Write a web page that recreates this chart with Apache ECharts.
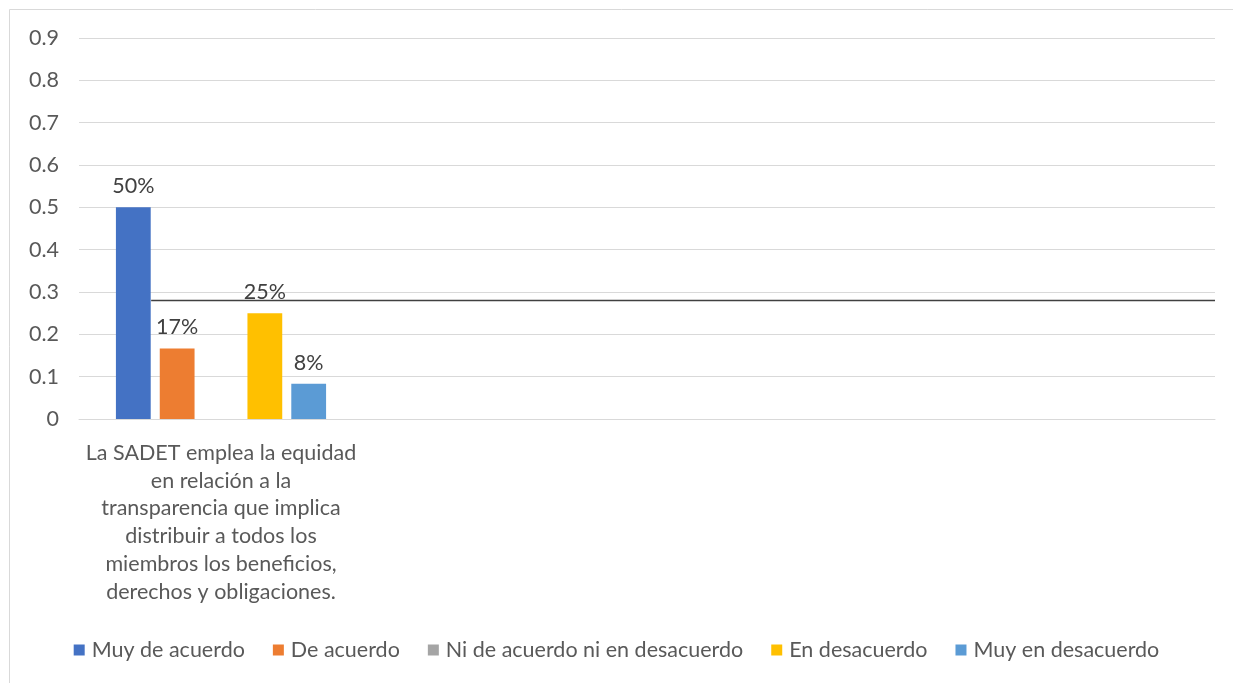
<!DOCTYPE html>
<html>
<head>
<meta charset="utf-8">
<script src="https://cdn.jsdelivr.net/npm/echarts@6/dist/echarts.min.js"></script>
<style>
html,body{margin:0;padding:0;background:#fff;}
#chart{width:1233px;height:683px;}
</style>
</head>
<body>
<div id="chart"></div>
<script>
const categories = [
  'La SADET emplea la equidad\nen relación a la\ntransparencia que implica\ndistribuir a todos los\nmiembros los beneficios,\nderechos y obligaciones.',
  '', '', ''
];
const seriesNames = ['Muy de acuerdo', 'De acuerdo', 'Ni de acuerdo ni en desacuerdo', 'En desacuerdo', 'Muy en desacuerdo'];
const muyDeAcuerdo = [0.5, null, null, null];
const deAcuerdo = [0.1667, null, null, null];
const niNi = [0, null, null, null];
const enDesacuerdo = [0.25, null, null, null];
const muyEnDesacuerdo = [0.0833, null, null, null];
const seriesColors = ['#4472C4', '#ED7D31', '#A5A5A5', '#FFC000', '#5B9BD5'];
const refLine = [[0.254, 0.28], [4, 0.28]];
const yTicks = { min: 0, max: 0.9, interval: 0.1 };

const values = [muyDeAcuerdo, deAcuerdo, niNi, enDesacuerdo, muyEnDesacuerdo];
const font = 'Lato, "Open Sans", sans-serif';
const fs = 21.5;

const chart = echarts.init(document.getElementById('chart'), null, { renderer: 'canvas' });

const barSeries = seriesNames.map((name, i) => ({
  name: name,
  type: 'bar',
  xAxisIndex: 0,
  yAxisIndex: 0,
  data: values[i],
  barGap: '26%',
  barCategoryGap: '26%',
  itemStyle: { color: seriesColors[i] },
  label: {
    show: true,
    position: 'top',
    distance: 10,
    color: '#404040',
    fontFamily: font,
    fontSize: fs,
    formatter: p => (p.value ? Math.round(p.value * 100) + '%' : '')
  },
  emphasis: { disabled: true },
  animation: false
}));

const option = {
  animation: false,
  backgroundColor: '#fff',
  textStyle: { fontFamily: font },
  graphic: [{
    type: 'rect',
    silent: true,
    shape: { x: 9.5, y: 9.5, width: 1240, height: 700 },
    style: { fill: 'none', stroke: '#d9d9d9', lineWidth: 1 }
  }],
  grid: { left: 79, right: 18, top: 38, bottom: 264, containLabel: false },
  legend: {
    data: seriesNames,
    bottom: 17,
    left: 'center',
    icon: 'rect',
    itemWidth: 11,
    itemHeight: 11,
    itemGap: 28,
    textStyle: { color: '#595959', fontSize: fs, fontFamily: font, padding: [0, 0, 0, 2] }
  },
  xAxis: [{
    type: 'category',
    data: categories,
    axisTick: { show: false },
    axisLine: { lineStyle: { color: '#d9d9d9', width: 1 } },
    axisLabel: {
      interval: 0,
      margin: 20,
      color: '#595959',
      fontSize: fs,
      lineHeight: 27.8,
      fontFamily: font,
      align: 'center'
    }
  }, {
    type: 'value',
    min: 0,
    max: 4,
    show: false
  }],
  yAxis: {
    type: 'value',
    min: yTicks.min,
    max: yTicks.max,
    interval: yTicks.interval,
    axisLine: { show: false },
    axisTick: { show: false },
    splitLine: { lineStyle: { color: '#d9d9d9', width: 1 } },
    axisLabel: {
      margin: 20,
      color: '#595959',
      fontSize: fs,
      fontFamily: font,
      formatter: v => String(Math.round(v * 10) / 10)
    }
  },
  series: barSeries.concat([{
    type: 'line',
    xAxisIndex: 1,
    yAxisIndex: 0,
    data: refLine,
    symbol: 'none',
    silent: true,
    lineStyle: { color: '#404040', width: 1.5 },
    z: 5
  }])
};

chart.setOption(option);
</script>
</body>
</html>
